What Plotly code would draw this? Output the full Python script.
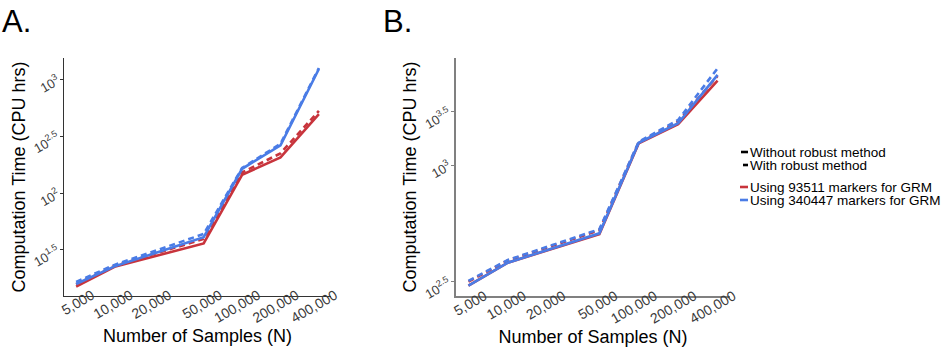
import plotly.graph_objects as go

# ---------------- data ----------------
samples = [5000, 10000, 50000, 100000, 200000, 400000]
x_tick_vals = [5000, 10000, 20000, 50000, 100000, 200000, 400000]
x_tick_text = ["5,000", "10,000", "20,000", "50,000", "100,000", "200,000", "400,000"]

# Panel A (CPU hrs)
a_93511_without = [15.0, 22.4, 36.0, 144.9, 206.1, 495.5]
a_93511_with = [15.7, 22.8, 39.4, 151.7, 223.9, 529.7]
a_340447_without = [15.8, 22.6, 40.8, 163.7, 263.0, 1239.0]
a_340447_with = [16.5, 23.3, 43.6, 166.3, 271.6, 1265.0]

# Panel B (CPU hrs)
b_93511_without = [301.0, 411.0, 604.0, 2070.0, 2680.0, 4830.0]
b_93511_with = [318.0, 423.0, 637.0, 2099.0, 2777.0, 5152.0]
b_340447_without = [301.0, 411.0, 611.0, 2084.0, 2714.0, 5224.0]
b_340447_with = [321.0, 426.0, 646.0, 2113.0, 2838.0, 5715.0]

a_y_tick_vals = [10 ** 1.5, 10 ** 2, 10 ** 2.5, 10 ** 3]
a_y_tick_text = ["10<sup>1.5</sup>", "10<sup>2</sup>", "10<sup>2.5</sup>", "10<sup>3</sup>"]
# tick positions
b_y_tick_vals = [10 ** 2.5, 10 ** 3.188, 10 ** 3.5]
b_y_tick_text = ["10<sup>2.5</sup>", "10<sup>3</sup>", "10<sup>3.5</sup>"]

linetype_labels = ["Without robust method", "With robust method"]
colour_labels = ["Using 93511 markers for GRM", "Using 340447 markers for GRM"]

# ---------------- style ----------------
W, H = 949, 354
RED = "#c8343c"
BLUE = "#4a7ce6"
FONT = "Liberation Sans, Arial, Helvetica, sans-serif"
DASH = "6px,4px"
LW = 2.6

def px(x):
    return x / W

def py(y):
    return 1 - y / H

fig = go.Figure()

series = [
    ("x", "y", a_93511_without, RED, "solid"),
    ("x", "y", a_93511_with, RED, DASH),
    ("x", "y", a_340447_without, BLUE, "solid"),
    ("x", "y", a_340447_with, BLUE, DASH),
    ("x2", "y2", b_93511_without, RED, "solid"),
    ("x2", "y2", b_93511_with, RED, DASH),
    ("x2", "y2", b_340447_without, BLUE, "solid"),
    ("x2", "y2", b_340447_with, BLUE, DASH),
]
for xa, ya, vals, col, dash in series:
    fig.add_trace(go.Scatter(
        x=samples, y=vals, xaxis=xa, yaxis=ya, mode="lines",
        line=dict(color=col, width=LW, dash=dash), showlegend=False,
    ))

ydom = [py(296), py(58)]
xtickfont = dict(family=FONT, size=14, color="#3a3a3a")
ytickfont = dict(family=FONT, size=13, color="#3a3a3a")
titlefont = dict(family=FONT, size=18, color="#000000")

def xaxis(dom, lc, lw):
    return dict(
        type="log", domain=dom, range=[3.604, 5.697],
        tickmode="array", tickvals=x_tick_vals, ticktext=x_tick_text,
        tickangle=-30, tickfont=xtickfont, ticklabelshift=16, ticklabelstandoff=-15,
        showgrid=False, zeroline=False, showline=True, linecolor=lc, linewidth=lw,
        ticks="", automargin=False,
        title=dict(text="Number of Samples (N)", font=titlefont, standoff=0),
    )

def yaxis(anchor, rng, tv, tt, lc, lw):
    return dict(
        type="log", domain=ydom, range=rng, anchor=anchor,
        tickmode="array", tickvals=tv, ticktext=tt,
        tickangle=-30, tickfont=ytickfont,
        showgrid=False, zeroline=False, showline=True, linecolor=lc, linewidth=lw,
        ticks="outside", ticklen=3, tickcolor=lc, automargin=False,
        title=dict(text="Computation Time (CPU hrs)", font=titlefont, standoff=0),
    )

fig.update_layout(
    width=W, height=H,
    margin=dict(l=0, r=0, t=0, b=0),
    paper_bgcolor="white", plot_bgcolor="white",
    showlegend=False,
    xaxis=dict(xaxis([px(64), px(331)], "#333333", 1), anchor="y"),
    xaxis2=dict(xaxis([px(456), px(730)], "#808080", 1.5), anchor="y2"),
    yaxis=yaxis("x", [1.093, 3.19], a_y_tick_vals, a_y_tick_text, "#333333", 1),
    yaxis2=yaxis("x2", [2.4176, 3.8176], b_y_tick_vals, b_y_tick_text, "#808080", 1.5),
)

# panel letters
fig.add_annotation(text="A.", x=px(0), y=py(2), xref="paper", yref="paper",
                   xanchor="left", yanchor="top", showarrow=False,
                   font=dict(family=FONT, size=31, color="#000"))
fig.add_annotation(text="B.", x=px(381), y=py(2), xref="paper", yref="paper",
                   xanchor="left", yanchor="top", showarrow=False,
                   font=dict(family=FONT, size=31, color="#000"))

# legend (drawn manually, ggplot-style short keys)
legend_rows = [
    (linetype_labels[0], "#000000", 741, 152),
    (linetype_labels[1], "#000000", 743, 165),
    (colour_labels[0], RED, 740, 187),
    (colour_labels[1], BLUE, 740, 200),
]
for label, col, x0, yc in legend_rows:
    fig.add_shape(type="line", xref="paper", yref="paper",
                  x0=px(x0), x1=px(748), y0=py(yc), y1=py(yc),
                  line=dict(color=col, width=2.6))
    fig.add_annotation(text=label, x=px(749), y=py(yc), xref="paper", yref="paper",
                       xanchor="left", yanchor="middle", showarrow=False, borderpad=0,
                       font=dict(family=FONT, size=13.5, color="#000"))

fig.write_html("out.html")
